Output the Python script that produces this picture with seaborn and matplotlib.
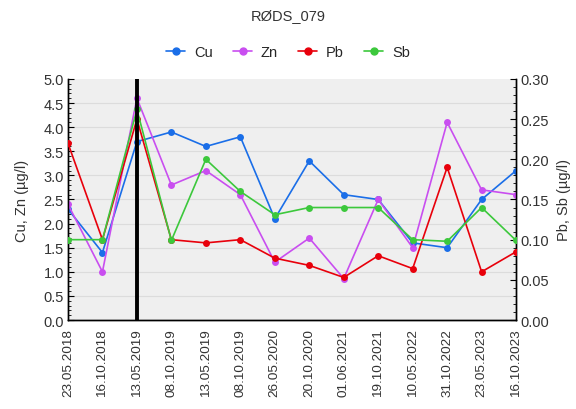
import numpy as np
import pandas as pd
import seaborn as sns
import matplotlib.pyplot as plt
from matplotlib.ticker import MultipleLocator
from matplotlib.lines import Line2D

dates = ["23.05.2018", "16.10.2018", "13.05.2019", "08.10.2019", "13.05.2019",
         "08.10.2019", "26.05.2020", "20.10.2020", "01.06.2021", "19.10.2021",
         "10.05.2022", "31.10.2022", "23.05.2023", "16.10.2023"]
cu = [2.3, 1.4, 3.7, 3.9, 3.6, 3.8, 2.1, 3.3, 2.6, 2.5, 1.6, 1.5, 2.5, 3.1]
zn = [2.4, 1.0, 4.6, 2.8, 3.1, 2.6, 1.2, 1.7, 0.86, 2.5, 1.5, 4.1, 2.7, 2.6]
pb = [0.22, 0.10, 0.25, 0.10, 0.096, 0.10, 0.077, 0.068, 0.053, 0.080, 0.064, 0.19, 0.060, 0.085]
sb = [0.10, 0.10, 0.262, 0.099, 0.20, 0.16, 0.131, 0.14, 0.14, 0.14, 0.10, 0.098, 0.14, 0.099]
marker_date = 2  # vertical line position (13.05.2019)

colors = {"Cu": "#1a6ee8", "Zn": "#c94ef0", "Pb": "#e8000b", "Sb": "#3cc83c"}

df = pd.DataFrame({"pos": np.arange(len(dates)), "date": dates,
                   "Cu": cu, "Zn": zn, "Pb": pb, "Sb": sb})

sns.set_style("white")
plt.rcParams['font.family'] = ['Liberation Sans', 'DejaVu Sans']

fig = plt.figure(figsize=(5.76, 4.10), dpi=100)
ax = fig.add_axes([0.118, 0.217, 0.778, 0.588])
ax2 = ax.twinx()

ax.set_facecolor("#efefef")
for y in np.arange(0.5, 5.0, 0.5):
    ax.axhline(y, color="#dcdcdc", lw=0.8, zorder=0)

for name in ["Cu", "Zn"]:
    sns.lineplot(data=df, x="pos", y=name, ax=ax, color=colors[name], marker="o",
                 markersize=5, markeredgewidth=0, lw=1.2, zorder=3)
for name in ["Pb", "Sb"]:
    sns.lineplot(data=df, x="pos", y=name, ax=ax2, color=colors[name], marker="o",
                 markersize=5, markeredgewidth=0, lw=1.2, zorder=3)

ax2.axvline(marker_date, color="black", lw=2.8, zorder=5)

fs = 10.5
ax.set_xlim(0, len(dates) - 1)
ax.set_ylim(0, 5)
ax2.set_ylim(0, 0.30)
ax.set_xticks(df["pos"])
ax.set_xticklabels(dates, rotation=90)
ax.yaxis.set_major_locator(MultipleLocator(0.5))
ax.yaxis.set_minor_locator(MultipleLocator(0.1))
ax2.yaxis.set_major_locator(MultipleLocator(0.05))
ax2.yaxis.set_minor_locator(MultipleLocator(0.01))
ax.yaxis.set_major_formatter(plt.FormatStrFormatter("%.1f"))
ax2.yaxis.set_major_formatter(plt.FormatStrFormatter("%.2f"))

ax.tick_params(axis="y", which="major", direction="in", length=4, pad=3)
ax.tick_params(axis="y", which="minor", direction="in", length=2)
ax2.tick_params(axis="y", which="major", direction="in", length=4, pad=3)
ax2.tick_params(axis="y", which="minor", direction="in", length=2)
for a in (ax, ax2):
    a.tick_params(axis="both", which="both", colors="black", labelcolor="#333333", labelsize=fs)
ax.tick_params(axis="x", which="major", direction="in", length=4, pad=6, labelsize=9.7)

ax.set_xlabel("")
ax.set_ylabel("Cu, Zn (µg/l)", fontsize=fs, color="#333333", labelpad=10)
ax2.set_ylabel("Pb, Sb (µg/l)", fontsize=fs, color="#333333", labelpad=6)

for a in (ax, ax2):
    a.spines["top"].set_visible(False)
    for s in ("left", "right", "bottom"):
        a.spines[s].set_color("black")
        a.spines[s].set_linewidth(1.0)

handles = [Line2D([0], [0], color=colors[n], marker="o", markersize=5, lw=1.2) for n in colors]
fig.legend(handles, list(colors), loc="center", bbox_to_anchor=(0.5, 0.87), ncol=4,
           frameon=False, fontsize=fs, handlelength=1.3, handletextpad=0.6, columnspacing=1.4)
fig.text(0.5, 0.962, "RØDS_079", ha="center", va="center", fontsize=fs, color="#333333")

fig.savefig("out.png", dpi=100)
